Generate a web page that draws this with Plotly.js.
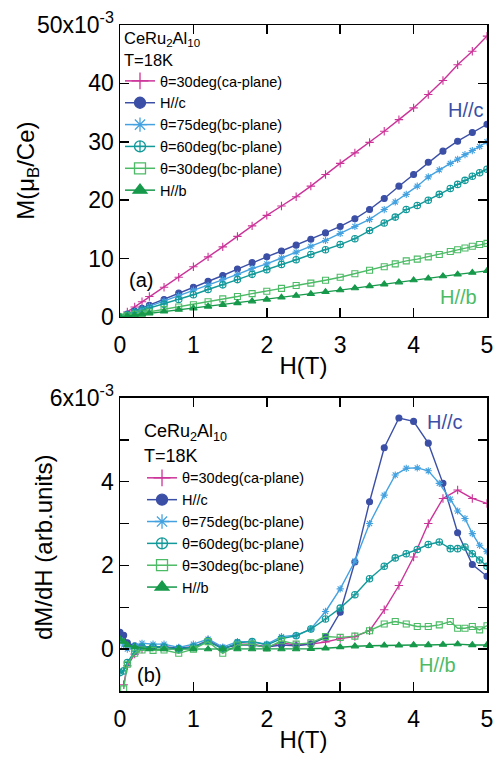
<!DOCTYPE html>
<html><head><meta charset="utf-8">
<script src="https://cdn.plot.ly/plotly-3.0.1.min.js"></script>
<style>html,body{margin:0;padding:0;background:#fff}#g{width:502px;height:757px}</style>
</head><body><div id="g"></div>
<script>
// ---------- Panel (a): M vs H (units 1e-3 muB/Ce) ----------
var xStep = [0,0.1,0.2,0.3,0.4,0.6,0.8,1.0,1.2,1.4,1.6,1.8,2.0,2.2,2.4,2.6,2.8,3.0,3.2,3.4,3.6,3.8,4.0,4.2,4.4,4.6,4.8,5.0];
var xDense = [0,0.1,0.2,0.3,0.4,0.6,0.8,1.0,1.2,1.4,1.6,1.8,2.0,2.2,2.4,2.6,2.8,3.0,3.2,3.4,3.6,3.75,3.9,4.05,4.2,4.35,4.5,4.6,4.7,4.8,4.9,5.0];

var M_ca30 = [0,0.85,1.7,2.6,3.5,5.1,6.8,8.6,10.3,12.0,13.8,15.6,17.4,19.0,20.6,22.4,24.4,26.3,28.1,29.9,31.8,33.8,35.8,38.1,40.5,43.2,45.5,48.1];
var M_Hc    = [0,0.5,1.0,1.5,2.0,3.0,4.1,5.1,6.1,7.1,8.2,9.3,10.3,11.3,12.3,13.3,14.4,15.5,16.8,18.4,20.3,22.4,24.4,26.5,28.4,30.1,31.6,33.0];
var M_bc75  = [0,0.45,0.9,1.35,1.8,2.7,3.6,4.6,5.4,6.4,7.3,8.3,9.1,10.1,11.1,12.1,13.1,14.3,15.5,16.7,18.4,19.7,21.0,22.4,24.0,25.2,26.3,27.0,27.8,28.5,29.2,30.0];
var M_bc60  = [0,0.38,0.75,1.1,1.5,2.2,3.0,3.8,4.7,5.5,6.4,7.3,8.1,9.0,9.8,10.7,11.5,12.4,13.4,14.8,16.1,17.1,18.4,19.1,20.0,21.0,22.0,22.7,23.4,24.1,24.7,25.3];
var M_bc30  = [0,0.22,0.45,0.65,0.85,1.3,1.7,2.1,2.6,3.1,3.5,4.0,4.4,4.9,5.4,5.8,6.3,6.8,7.4,8.0,8.6,9.1,9.6,9.9,10.3,10.7,11.2,11.5,11.8,12.1,12.4,12.6];
var M_Hb    = [0,0.15,0.3,0.47,0.65,0.95,1.25,1.5,1.8,2.1,2.4,2.7,3.0,3.35,3.65,3.95,4.3,4.6,4.95,5.3,5.6,5.95,6.3,6.6,7.0,7.3,7.6,7.9];

// ---------- Panel (b): dM/dH vs H (units 1e-3) ----------
var xdCa = [0.05,0.1,0.2,0.3,0.45,0.6,0.8,1.0,1.2,1.4,1.6,1.8,2.0,2.2,2.4,2.6,2.8,3.0,3.2,3.4,3.6,3.8,4.0,4.2,4.4,4.6,4.8,5.0];
var xdStep = [0,0.05,0.1,0.2,0.3,0.45,0.6,0.8,1.0,1.2,1.4,1.6,1.8,2.0,2.2,2.4,2.6,2.8,3.0,3.2,3.4,3.6,3.8,4.0,4.2,4.4,4.6,4.8,5.0];
var xdDense = [0,0.05,0.1,0.2,0.3,0.45,0.6,0.8,1.0,1.2,1.4,1.6,1.8,2.0,2.2,2.4,2.6,2.8,3.0,3.2,3.4,3.6,3.75,3.9,4.05,4.2,4.35,4.5,4.6,4.7,4.8,4.9,5.0];
var xdSq = [0.05,0.1,0.2,0.3,0.45,0.6,0.8,1.0,1.2,1.4,1.6,1.8,2.0,2.2,2.4,2.6,2.8,3.0,3.2,3.4,3.6,3.75,3.9,4.05,4.2,4.35,4.5,4.6,4.7,4.8,4.9,5.0];
var xdHb = [0,0.05,0.1,0.2,0.4,0.6,0.8,1.0,1.2,1.4,1.6,1.8,2.0,2.2,2.4,2.6,2.8,3.0,3.2,3.4,3.6,3.8,4.0,4.2,4.4,4.6,4.8,5.0];

var D_ca30 = [-0.85,-0.4,-0.12,0.0,0.05,0.05,0.02,0.05,0.22,0.02,0.12,0.12,0.05,0.15,0.1,0.12,0.17,0.25,0.3,0.44,0.94,1.52,2.2,3.0,3.6,3.8,3.6,3.48];
var D_Hc    = [0.40,0.33,0.15,0.08,0.05,0.05,0.05,0.02,0.05,0.18,0.02,0.1,0.1,0.05,0.1,0.08,0.12,0.28,0.88,2.08,3.52,4.81,5.52,5.44,4.92,3.96,2.78,2.02,1.74];
var D_bc75  = [0.22,0.1,0.0,0.08,0.14,0.12,0.12,0.04,0.12,0.24,0.05,0.18,0.18,0.12,0.30,0.33,0.48,0.90,1.44,2.10,3.0,3.68,4.16,4.32,4.33,4.26,3.96,3.58,3.30,3.12,2.76,2.48,2.33];
var D_bc60  = [-0.56,-0.52,-0.32,-0.05,0.05,0.05,0.05,0.0,0.05,0.2,0.0,0.15,0.18,0.1,0.25,0.32,0.48,0.72,0.98,1.30,1.68,1.98,2.18,2.28,2.38,2.50,2.56,2.40,2.40,2.44,2.28,2.13,1.98];
var D_bc30  = [-0.95,-0.36,-0.1,-0.02,-0.03,-0.02,-0.1,0.0,0.18,-0.1,0.1,0.12,0.03,0.2,0.12,0.15,0.3,0.28,0.31,0.44,0.60,0.66,0.60,0.54,0.54,0.58,0.66,0.50,0.50,0.54,0.46,0.56];
var D_Hb    = [0.24,0.18,0.1,0.05,0.0,0.0,0.0,0.0,0.0,0.0,0.0,0.0,0.0,0.0,0.0,0.01,0.02,0.05,0.07,0.08,0.09,0.09,0.1,0.1,0.11,0.12,0.1,0.1];

var names = ['θ=30deg(ca-plane)','H//c','θ=75deg(bc-plane)','θ=60deg(bc-plane)','θ=30deg(bc-plane)','H//b'];
var colors = ['#cc3399','#3b4fa6','#45a2e0','#12999a','#4cbb66','#16994a'];
var symbols = ['cross-thin-open','circle','asterisk-open','circle-cross-open','square-open','triangle-up'];
var sizes = [6,6,6,6.5,6,6.5];
var legSizes = [12,11,12,11,11,12];

function tr(x,y,i,xa,ya){
  return {x:x,y:y,xaxis:xa,yaxis:ya,name:names[i],type:'scatter',mode:'lines+markers',showlegend:false,
    line:{color:colors[i],width:1.4},
    marker:{symbol:symbols[i],size:sizes[i],color:colors[i],line:{color:colors[i],width:1.1}}};
}
function legTr(i,xa,ya,leg){
  return {x:[null],y:[null],xaxis:xa,yaxis:ya,legend:leg,name:names[i],type:'scatter',mode:'lines+markers',showlegend:true,
    line:{color:colors[i],width:1.5},
    marker:{symbol:symbols[i],size:legSizes[i],color:colors[i],line:{color:colors[i],width:1.3}}};
}
var data = [
  tr(xStep,M_ca30,0,'x','y'),
  tr(xStep,M_Hc,1,'x','y'),
  tr(xDense,M_bc75,2,'x','y'),
  tr(xDense,M_bc60,3,'x','y'),
  tr(xDense,M_bc30,4,'x','y'),
  tr(xStep,M_Hb,5,'x','y'),
  tr(xdCa,D_ca30,0,'x2','y2'),
  tr(xdStep,D_Hc,1,'x2','y2'),
  tr(xdDense,D_bc75,2,'x2','y2'),
  tr(xdDense,D_bc60,3,'x2','y2'),
  tr(xdSq,D_bc30,4,'x2','y2'),
  tr(xdHb,D_Hb,5,'x2','y2')
];
for (var i=0;i<6;i++) data.push(legTr(i,'x','y','legend'));
for (var j=0;j<6;j++) data.push(legTr(j,'x2','y2','legend2'));

var FONT = 'Liberation Sans, Arial, Helvetica, sans-serif';
var axBase = {showline:true,linecolor:'#000',linewidth:1.5,mirror:'allticks',ticks:'inside',ticklen:9,tickwidth:1.5,tickcolor:'#000',showgrid:false,zeroline:false,tickfont:{size:23,color:'#000'}};
function ax(o){return Object.assign({},axBase,o);}

var yTopVals = [0,10,20,30,40,50];
var yTopText = ['0','10','20','30','40','50x10<sup>-3</sup>'];
var yBotVals = [0,2,4,6];
var yBotText = ['0','2','4','6x10<sup>-3</sup>'];
var xVals = [0,1,2,3,4,5];

var layout = {
  width:502,height:757,
  margin:{l:120,r:15,t:25,b:66},
  paper_bgcolor:'#fff',plot_bgcolor:'#fff',
  font:{family:FONT,color:'#000'},
  showlegend:true,
  xaxis:ax({domain:[0,1],range:[0,5],tickvals:xVals,anchor:'y',ticklabelstandoff:7,title:{text:'H(T)',font:{size:24},standoff:0}}),
  yaxis:ax({domain:[0.5616,1],range:[0,50],tickvals:yTopVals,ticktext:yTopText,anchor:'x'}),
  xaxis2:ax({domain:[0,1],range:[0,5],tickvals:xVals,anchor:'y2',ticklabelstandoff:7,title:{text:'H(T)',font:{size:24},standoff:0}}),
  yaxis2:ax({domain:[0,0.44],range:[-1,6],tickvals:yBotVals,ticktext:yBotText,anchor:'x2',
    minor:{tickvals:[1,3,5],ticks:'inside',ticklen:9,tickwidth:1.5,tickcolor:'#000'}}),
  legend:{x:0.0,y:0.94,xanchor:'left',yanchor:'top',bgcolor:'rgba(0,0,0,0)',font:{size:14.5},itemsizing:'trace',tracegroupgap:0},
  legend2:{x:0.06,y:0.344,xanchor:'left',yanchor:'top',bgcolor:'rgba(0,0,0,0)',font:{size:14.5},itemsizing:'trace',tracegroupgap:0},
  annotations:[
    {xref:'paper',yref:'paper',x:-0.2507,y:0.781,xanchor:'center',yanchor:'middle',textangle:-90,showarrow:false,text:'M(μ<sub>B</sub>/Ce)',font:{size:24}},
    {xref:'paper',yref:'paper',x:-0.2098,y:0.2147,xanchor:'center',yanchor:'middle',textangle:-90,showarrow:false,text:'dM/dH (arb.units)',font:{size:24}},
    {xref:'x domain',yref:'y domain',x:0.005,y:0.952,xanchor:'left',yanchor:'middle',showarrow:false,text:'CeRu<sub>2</sub>Al<sub>10</sub>',font:{size:16.5}},
    {xref:'x domain',yref:'y domain',x:0.005,y:0.879,xanchor:'left',yanchor:'middle',showarrow:false,text:'T=18K',font:{size:16.5}},
    {xref:'x domain',yref:'y domain',x:0.943,y:0.709,xanchor:'center',yanchor:'middle',showarrow:false,text:'H//c',font:{size:20,color:colors[1]}},
    {xref:'x domain',yref:'y domain',x:0.921,y:0.068,xanchor:'center',yanchor:'middle',showarrow:false,text:'H//b',font:{size:20,color:colors[4]}},
    {xref:'x domain',yref:'y domain',x:0.058,y:0.127,xanchor:'center',yanchor:'middle',showarrow:false,text:'(a)',font:{size:20}},
    {xref:'x2 domain',yref:'y2 domain',x:0.06,y:0.881,xanchor:'left',yanchor:'middle',showarrow:false,text:'CeRu<sub>2</sub>Al<sub>10</sub>',font:{size:18}},
    {xref:'x2 domain',yref:'y2 domain',x:0.06,y:0.802,xanchor:'left',yanchor:'middle',showarrow:false,text:'T=18K',font:{size:18}},
    {xref:'x2 domain',yref:'y2 domain',x:0.886,y:0.918,xanchor:'center',yanchor:'middle',showarrow:false,text:'H//c',font:{size:20,color:colors[1]}},
    {xref:'x2 domain',yref:'y2 domain',x:0.864,y:0.089,xanchor:'center',yanchor:'middle',showarrow:false,text:'H//b',font:{size:20,color:colors[4]}},
    {xref:'x2 domain',yref:'y2 domain',x:0.078,y:0.055,xanchor:'center',yanchor:'middle',showarrow:false,text:'(b)',font:{size:20}}
  ]
};
Plotly.newPlot('g',data,layout,{displayModeBar:false,staticPlot:true});
</script></body></html>
